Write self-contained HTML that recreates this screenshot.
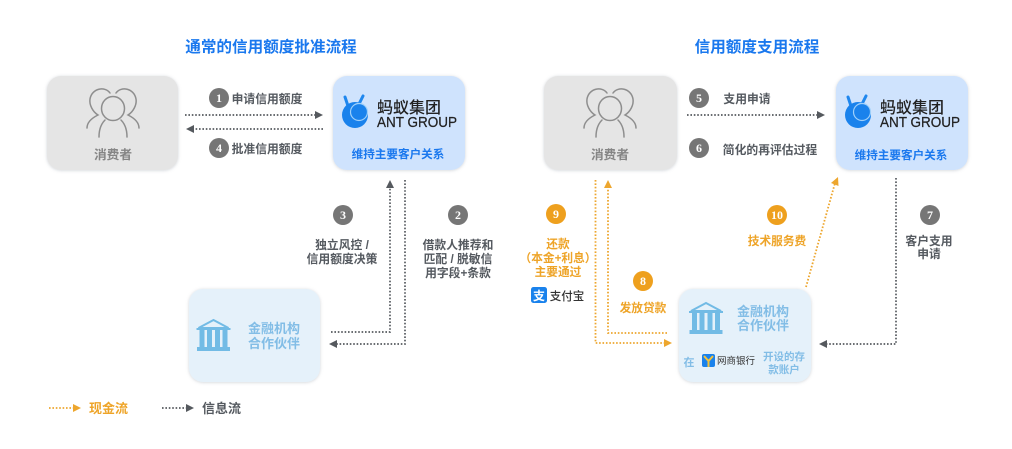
<!DOCTYPE html>
<html lang="zh"><head><meta charset="utf-8">
<style>
html,body{margin:0;padding:0;background:#fff;width:1012px;height:449px;overflow:hidden}
svg{display:block;filter:blur(.35px)}
text{font-family:"Liberation Sans","Noto Sans CJK SC",sans-serif;font-weight:700;text-anchor:middle}
.g{fill:#555a60;font-size:11.8px}
.o{fill:#eea428;font-size:11.7px}
.b{fill:#1a78ee}
.lb{fill:#82bde6}
.n{fill:#fff;font-family:"Liberation Serif",serif;font-size:12px}
.dg{fill:none;stroke:#55595e;stroke-width:1.7;stroke-dasharray:1.6 1.8}
.do{fill:none;stroke:#eda62e;stroke-width:1.8;stroke-dasharray:1.6 1.8}
</style></head><body>
<svg width="1012" height="449" viewBox="0 0 1012 449" xmlns="http://www.w3.org/2000/svg">
<defs>
<filter id="s" x="-10%" y="-10%" width="120%" height="120%"><feDropShadow dx="0" dy="0.5" stdDeviation="1.5" flood-color="#8a94a0" flood-opacity=".4"/></filter>
<g id="people" fill="none" stroke="#8e8e8e" stroke-width="1.5" stroke-linecap="round">
<path d="M-3 -17C-8 -24 -21 -22 -23 -11C-24 -5 -20 2 -15 5C-21 8 -26 12 -26 18"/>
<path d="M3 -17C8 -24 21 -22 23 -11C24 -5 20 2 15 5C21 8 26 12 26 18"/>
<ellipse cx="0" cy="-1.500" rx="11.500" ry="12"/>
<path d="M-8 10C-12 14 -14 20 -14 27M8 10C12 14 14 20 14 27"/>
</g>
<g id="ant">
<path d="M6 -8L3 -17M16 -8L21 -18" stroke="#1f87ee" stroke-width="3" stroke-linecap="round" fill="none"/>
<circle cx="13" cy="1" r="13" fill="#1a82ec"/>
<circle cx="17" cy="-2" r="8.500" fill="#1a82ec" stroke="#9fd0fa" stroke-width="1.200"/>
<text x="35" y="-1" textLength="64" lengthAdjust="spacingAndGlyphs" style="text-anchor:start;font-size:16px;font-weight:500;fill:#222">蚂蚁集团</text>
<text x="35" y="13" textLength="80" lengthAdjust="spacingAndGlyphs" style="text-anchor:start;font-size:14.5px;font-weight:400;fill:#222;stroke:#222;stroke-width:.25">ANT GROUP</text>
</g>
<g id="bank" fill="#72bbe5">
<path d="M0 -15L15 -7H-15Z" fill="none" stroke="#72bbe5" stroke-width="2"/>
<rect x="-17" y="-7" width="34" height="2"/>
<rect x="-14" y="-5" width="5" height="17"/><rect x="-6.500" y="-5" width="5" height="17"/><rect x="1.500" y="-5" width="5" height="17"/><rect x="9" y="-5" width="5" height="17"/>
<rect x="-16.500" y="12" width="33" height="4"/>
</g>
</defs>

<text x="271" y="52" class="b" style="font-size:15.6px">通常的信用额度批准流程</text>
<text x="757" y="52" class="b" style="font-size:15.6px">信用额度支用流程</text>

<!-- boxes -->
<rect x="47" y="76" width="131" height="94" rx="14" fill="#e5e5e5" filter="url(#s)"/>
<rect x="333" y="76" width="132" height="94" rx="14" fill="#cfe3fd" filter="url(#s)"/>
<rect x="544" y="76" width="133" height="94" rx="14" fill="#e5e5e5" filter="url(#s)"/>
<rect x="836" y="76" width="132" height="94" rx="14" fill="#cfe3fd" filter="url(#s)"/>
<rect x="189" y="289" width="131" height="93" rx="14" fill="#e5f1fa" filter="url(#s)"/>
<rect x="679" y="289" width="132" height="93" rx="14" fill="#e5f1fa" filter="url(#s)"/>

<use href="#people" x="113" y="110"/>
<use href="#people" x="610" y="110"/>
<text x="113" y="159" style="font-size:12.7px;fill:#858585">消费者</text>
<text x="610" y="159" style="font-size:12.7px;fill:#858585">消费者</text>

<use href="#ant" x="342" y="114"/>
<use href="#ant" x="845" y="114"/>
<text x="398" y="158" class="b" style="font-size:11.6px">维持主要客户关系</text>
<text x="901" y="159" class="b" style="font-size:11.6px">维持主要客户关系</text>

<use href="#bank" x="213.500" y="335"/>
<text x="274" y="333" class="lb" style="font-size:13px">金融机构</text>
<text x="274" y="348" class="lb" style="font-size:13px">合作伙伴</text>

<use href="#bank" x="706" y="318"/>
<text x="763" y="316" class="lb" style="font-size:13px">金融机构</text>
<text x="763" y="330" class="lb" style="font-size:13px">合作伙伴</text>
<text x="689" y="366" class="lb" style="font-size:11px">在</text>
<rect x="702" y="354" width="13" height="13" rx="2" fill="#1a82ec"/>
<path d="M704 356L708.500 361L713 356M708.500 361V367" stroke="#f5c33b" stroke-width="2" fill="none"/>
<text x="736" y="364" style="font-size:9.500px;font-weight:400;fill:#333">网商银行</text>
<text x="784" y="360" class="lb" style="font-size:10.5px">开设的存</text>
<text x="784" y="373" class="lb" style="font-size:10.5px">款账户</text>

<!-- gray connectors -->
<path class="dg" d="M185 115H317"/><path d="M315 111L323 115L315 119Z" fill="#55595e"/>
<path class="dg" d="M323 129H192"/><path d="M194 125L186 129L194 133Z" fill="#55595e"/>
<path class="dg" d="M331 332H390V186"/><path d="M386 188L390 180L394 188Z" fill="#55595e"/>
<path class="dg" d="M405 180V344H336"/><path d="M337 340L329 344L337 348Z" fill="#55595e"/>
<path class="dg" d="M687 115H819"/><path d="M817 111L825 115L817 119Z" fill="#55595e"/>
<path class="dg" d="M896 178V344H826"/><path d="M827 340L819 344L827 348Z" fill="#55595e"/>

<!-- orange connectors -->
<path class="do" d="M595.500 180V343H666"/><path d="M664 339L672 343L664 347Z" fill="#eda62e"/>
<path class="do" d="M667 333H608V186"/><path d="M604 188L608 180L612 188Z" fill="#eda62e"/>
<path class="do" d="M806 287L835 183"/><path d="M831 183L838 177L838.500 186Z" fill="#eda62e"/>

<!-- number badges -->
<g fill="#767676">
<circle cx="219" cy="98" r="10"/><circle cx="219" cy="148" r="10"/><circle cx="343" cy="215" r="10"/><circle cx="458" cy="215" r="10"/><circle cx="699" cy="98" r="10"/><circle cx="699" cy="148" r="10"/><circle cx="930" cy="215" r="10"/>
</g>
<g fill="#eea01e">
<circle cx="556" cy="214" r="10"/><circle cx="643" cy="281" r="10"/><circle cx="777" cy="215" r="10"/>
</g>
<text x="219" y="102" class="n">1</text><text x="219" y="152" class="n">4</text><text x="343" y="219" class="n">3</text><text x="458" y="219" class="n">2</text><text x="699" y="102" class="n">5</text><text x="699" y="152" class="n">6</text><text x="930" y="219" class="n">7</text><text x="556" y="218" class="n">9</text><text x="643" y="285" class="n">8</text><text x="777" y="219" class="n">10</text>

<!-- gray labels -->
<text x="267" y="103" class="g">申请信用额度</text>
<text x="267" y="153" class="g">批准信用额度</text>
<text x="342" y="249" class="g">独立风控 /</text>
<text x="342" y="263" class="g">信用额度决策</text>
<text x="458" y="249" class="g">借款人推荐和</text>
<text x="458" y="263" class="g">匹配 / 脱敏信</text>
<text x="458" y="277" class="g">用字段+条款</text>
<text x="747" y="103" class="g">支用申请</text>
<text x="770" y="154" class="g">简化的再评估过程</text>
<text x="929" y="245" class="g">客户支用</text>
<text x="929" y="258" class="g">申请</text>

<!-- orange labels -->
<text x="558" y="248" class="o">还款</text>
<text x="558" y="262" class="o">（本金+利息）</text>
<text x="558" y="276" class="o">主要通过</text>
<text x="643" y="312" class="o">发放贷款</text>
<text x="777" y="245" class="o">技术服务费</text>

<rect x="531" y="287" width="16" height="16" rx="2.500" fill="#1a82ec"/>
<text x="539" y="300" style="font-size:12px;fill:#fff">支</text>
<text x="567" y="300" style="font-size:11.500px;fill:#333;font-weight:500">支付宝</text>

<!-- legend -->
<path class="do" d="M49 408H74"/><path d="M73 404L81 408L73 412Z" fill="#eda62e"/>
<text x="108.500" y="413" class="o" style="font-size:13px">现金流</text>
<path class="dg" d="M162 408H187"/><path d="M186 404L194 408L186 412Z" fill="#55595e"/>
<text x="221.500" y="413" class="g" style="font-size:13px">信息流</text>
</svg>
</body></html>
